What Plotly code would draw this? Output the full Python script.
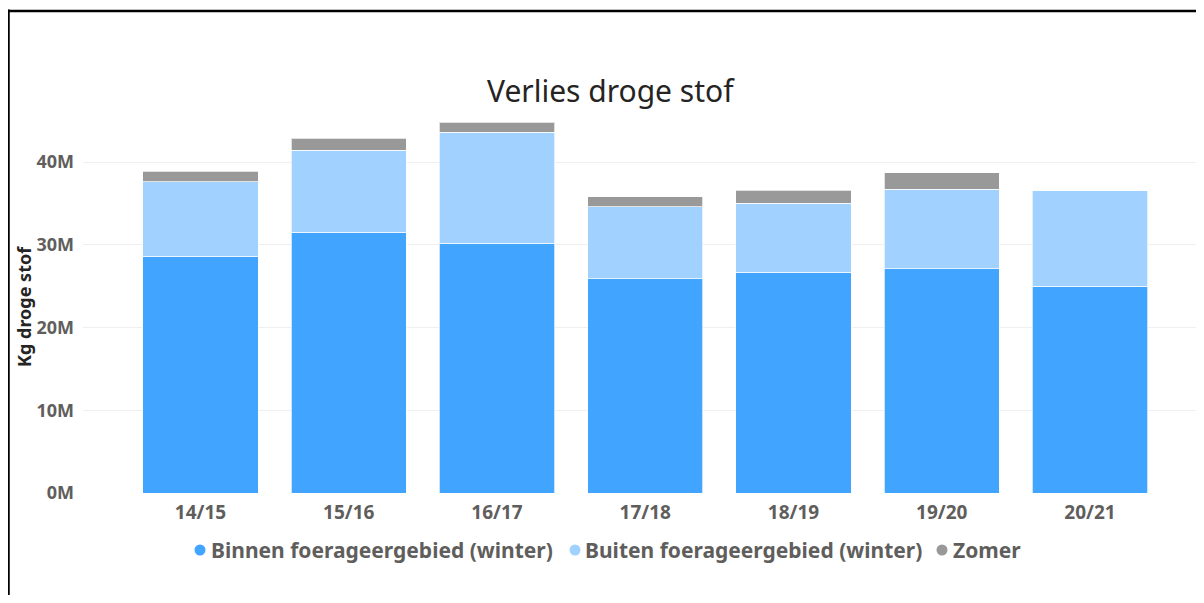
import plotly.graph_objects as go

# ---- data ----
seasons = ["14/15", "15/16", "16/17", "17/18", "18/19", "19/20", "20/21"]
binnen = [28.6e6, 31.5e6, 30.2e6, 25.9e6, 26.7e6, 27.1e6, 25.0e6]
buiten = [9.0e6, 9.9e6, 13.4e6, 8.7e6, 8.3e6, 9.6e6, 11.5e6]
zomer = [1.3e6, 1.5e6, 1.2e6, 1.2e6, 1.6e6, 2.0e6, 0.0]
series_names = ["Binnen foerageergebied (winter)", "Buiten foerageergebied (winter)", "Zomer"]
y_tickvals = [0, 10e6, 20e6, 30e6, 40e6]
y_ticktext = ["0M", "10M", "20M", "30M", "40M"]

colors = ["#41A4FF", "#A1D1FF", "#999999"]

OFF = 8  # page body margin: screen = figure + OFF
W, H = 1204 - OFF, 603 - 2 * OFF
# plot area in screen pixels
S_LEFT, S_RIGHT, S_TOP, S_BOTTOM = 83, 1204, 115, 493
L = S_LEFT - OFF
R = W - (S_RIGHT - OFF)
T = S_TOP - OFF
B = H - (S_BOTTOM - OFF)
PW, PH = W - L - R, H - T - B


def px(sx):
    return (sx - S_LEFT) / PW


def py(sy):
    return (S_BOTTOM - sy) / PH


fig = go.Figure()
for name, vals, col in zip(series_names, [binnen, buiten, zomer], colors):
    fig.add_trace(go.Bar(
        x=list(range(len(seasons))), y=vals, name=name,
        marker=dict(color=col, line=dict(color="rgba(255,255,255,0.7)", width=1)),
        showlegend=False,
    ))

step = 148.25
c0 = 200.5
x_lo = (S_LEFT - c0) / step
x_hi = (S_RIGHT - c0) / step

fig.update_layout(
    width=W, height=H,
    margin=dict(l=L, r=R, t=T, b=B),
    barmode="stack",
    bargap=0.224,
    plot_bgcolor="white", paper_bgcolor="white",
    font=dict(family="Noto Sans", color="#605E5C"),
    xaxis=dict(range=[x_lo, x_hi], tickvals=list(range(len(seasons))), ticktext=seasons,
               showgrid=False, zeroline=False, showline=False, ticks="",
               ticklabelstandoff=6,
               tickfont=dict(size=19, color="#605E5C", weight="bold")),
    yaxis=dict(range=[0, (S_BOTTOM - S_TOP) / 82.75 * 10e6], tickvals=y_tickvals, ticktext=y_ticktext,
               showgrid=True, gridcolor="#EFEFEF", gridwidth=1, zeroline=False,
               showline=False, ticks="", ticklabelstandoff=8,
               tickfont=dict(size=18, color="#605E5C", weight="bold")),
)

# title
fig.add_annotation(text="Verlies droge stof", xref="paper", yref="paper", x=px(611), y=py(90),
                   xanchor="center", yanchor="middle", showarrow=False,
                   font=dict(family="Noto Sans", size=30, color="#252423"))

# y-axis title
fig.add_annotation(text="Kg droge stof", xref="paper", yref="paper", x=px(24), y=py(307),
                   textangle=-90, showarrow=False, xanchor="center", yanchor="middle",
                   font=dict(size=18, color="#252423", weight="bold", family="Noto Sans"))

# legend (manual)
leg_y = 550
leg_items = [(200, 209), (575, 583), (942, 951)]
for (cx, tx), name, col in zip(leg_items, series_names, colors):
    fig.add_shape(type="circle", xref="paper", yref="paper", xsizemode="pixel", ysizemode="pixel",
                  xanchor=px(cx), yanchor=py(leg_y), x0=-5.5, x1=5.5, y0=-5.5, y1=5.5,
                  fillcolor=col, line=dict(width=0))
    fig.add_annotation(text=name, xref="paper", yref="paper", x=px(tx), y=py(leg_y),
                       xanchor="left", yanchor="middle", showarrow=False,
                       font=dict(size=21, color="#605E5C", weight="bold", family="Noto Sans"))

# frame border
fig.add_shape(type="line", xref="paper", yref="paper", x0=px(8.5), x1=px(8.5), y0=py(9.5), y1=py(700),
              line=dict(color="black", width=2.5))
fig.add_shape(type="line", xref="paper", yref="paper", x0=px(7), x1=px(1300), y0=py(11), y1=py(11),
              line=dict(color="black", width=2.5))

fig.write_html("out.html")
